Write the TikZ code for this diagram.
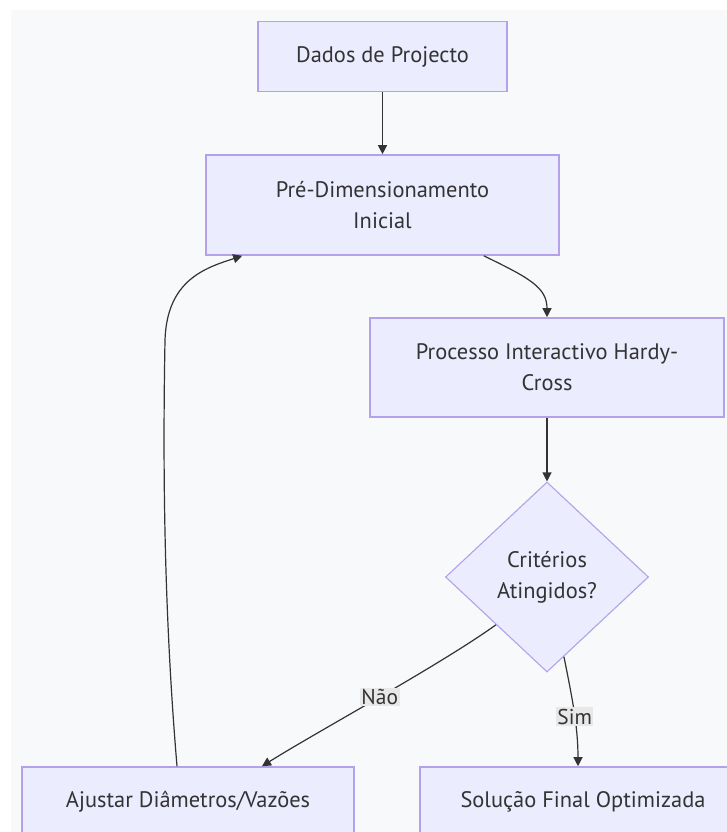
\documentclass[tikz,border=0pt]{standalone}
\usepackage{fontspec}
\setmainfont{PT Sans}
\usetikzlibrary{shapes.geometric,arrows.meta,calc}
\definecolor{boxfill}{HTML}{ECECFF}
\definecolor{boxline}{HTML}{B3A2EA}
\definecolor{bgc}{HTML}{F8F9FA}
\definecolor{txt}{HTML}{333333}
\definecolor{lnc}{HTML}{333333}
\definecolor{lblbg}{HTML}{E8E8E8}
\begin{document}
\begin{tikzpicture}[x=1bp,y=-1bp,
  font=\fontsize{22.5}{31}\selectfont,
  box/.style={draw=boxline, line width=1.6bp, fill=boxfill, text=txt, align=center, inner sep=0pt},
  dec/.style={diamond, draw=boxline, line width=1.1bp, fill=boxfill, text=txt, align=center, inner sep=0pt},
  conn/.style={draw=lnc, line width=1.2bp, -{Triangle[length=9bp,width=9bp]}},
  lbl/.style={fill=lblbg, text=txt, inner sep=1.5bp, font=\fontsize{21.5}{24}\selectfont}]
\useasboundingbox (0,0) rectangle (727,832);
\clip (0,0) rectangle (727,832);
\fill[white] (0,0) rectangle (727,832);
\fill[bgc] (11,10) rectangle (727,832);

\node[box, minimum width=249bp, minimum height=70bp] (dados) at (382.5,56.5) {Dados de Projecto};
\node[box, minimum width=353bp, minimum height=100bp] (pre) at (382.5,205) {Pré-Dimensionamento\\Inicial};
\node[box, minimum width=354bp, minimum height=99bp] (proc) at (547,367.5) {Processo Interactivo Hardy-\\Cross};
\node[dec, minimum width=203bp, minimum height=190bp] (crit) at (547,577) {Critérios\\Atingidos?};
\node[box, minimum width=332bp, minimum height=70bp] (ajust) at (188,802) {Ajustar Diâmetros/Vazões};
\node[box, minimum width=326bp, minimum height=70bp] (sol) at (583,802) {Solução Final Optimizada};

\draw[conn] (dados) -- (pre);
\draw[conn] ($(pre.south east)+(-76,0)$) .. controls +(45,22) and +(0,-30) .. (proc.north);
\draw[conn] (proc) -- (crit);
\draw[conn] (crit.south west) .. controls (440,665) and (320,730) .. ($(ajust.north)+(74,0)$)
  node[lbl, pos=0.5] {Não};
\draw[conn] (crit.-78) .. controls +(8,40) and +(0,-40) .. ($(sol.north)+(-5,0)$)
  node[lbl, pos=0.55] {Sim};
\draw[conn] ($(ajust.north)+(-11,0)$) .. controls (163,600) and (163,450) .. (165,340)
  .. controls (167,280) and (205,268) .. ($(pre.south west)+(37,0)$);
\end{tikzpicture}
\end{document}
